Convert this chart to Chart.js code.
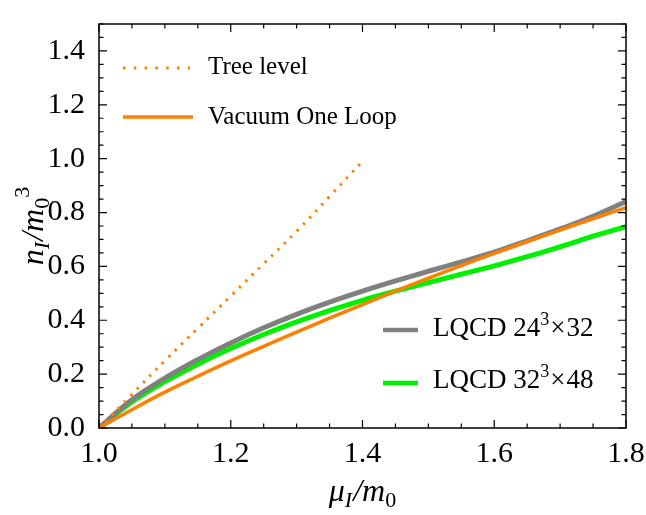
<!DOCTYPE html>
<html>
<head>
<meta charset="utf-8">
<script src="https://cdn.jsdelivr.net/npm/chart.js@4.4.1/dist/chart.umd.min.js"></script>
<style>
  html, body { margin: 0; padding: 0; background: #fff; }
  canvas { display: block; }
</style>
</head>
<body>
<canvas id="chart" width="646" height="515"></canvas>
<script>
// values
const mu = [1.00, 1.05, 1.10, 1.15, 1.20, 1.25, 1.30, 1.35, 1.40, 1.45, 1.50, 1.55, 1.60, 1.65, 1.70, 1.75, 1.80];
const oneLoop = [0, 0.068, 0.133, 0.192, 0.249, 0.303, 0.356, 0.408, 0.458, 0.508, 0.556, 0.603, 0.648, 0.692, 0.735, 0.777, 0.818];
const lqcd24 = [0, 0.105, 0.185, 0.254, 0.316, 0.372, 0.422, 0.467, 0.508, 0.546, 0.582, 0.617, 0.653, 0.695, 0.739, 0.786, 0.841];
const lqcd32 = [0, 0.097, 0.172, 0.237, 0.295, 0.347, 0.394, 0.436, 0.474, 0.508, 0.540, 0.571, 0.602, 0.636, 0.673, 0.712, 0.748];
const treeMu = [1.00, 1.05, 1.10, 1.15, 1.20, 1.25, 1.30, 1.35, 1.40];
const treeN = [0, 0.125, 0.25, 0.37, 0.49, 0.61, 0.73, 0.86, 0.99];

const xTicks = [1.0, 1.2, 1.4, 1.6, 1.8];
const yTicks = [0.0, 0.2, 0.4, 0.6, 0.8, 1.0, 1.2, 1.4];
const minorStep = 0.05;

const ORANGE = '#ff8000';
const GRAY = '#808080';
const GREEN = '#00f000';
const SERIF = '"Liberation Serif", "Times New Roman", Tinos, serif';

function pts(xs, ys) {
  return xs.map((x, i) => ({ x: x, y: ys[i] }));
}

// draws a run of text pieces (for sub/superscripts); align 'center' or 'left'
function drawRich(ctx, parts, x, y, align) {
  let w = 0;
  parts.forEach(p => {
    ctx.font = p.font;
    p.w = ctx.measureText(p.t).width;
    w += p.w + (p.gap || 0);
  });
  let cx = align === 'left' ? x : x - w / 2;
  ctx.textBaseline = 'alphabetic';
  ctx.textAlign = 'left';
  parts.forEach(p => {
    ctx.font = p.font;
    ctx.fillText(p.t, cx, y + (p.dy || 0));
    cx += p.w + (p.gap || 0);
  });
}

const overlay = {
  id: 'overlay',
  afterDraw(chart) {
    const ctx = chart.ctx;
    const a = chart.chartArea;
    const sx = chart.scales.x;
    const sy = chart.scales.y;
    ctx.save();
    ctx.strokeStyle = '#000';
    ctx.fillStyle = '#000';

    // inward ticks on all four sides
    ctx.lineWidth = 1.2;
    ctx.beginPath();
    for (let v = sx.min; v <= sx.max + 1e-9; v += minorStep) {
      const major = xTicks.some(t => Math.abs(t - v) < 1e-6);
      const len = major ? 8 : 4.5;
      const px = sx.getPixelForValue(v);
      ctx.moveTo(px, a.bottom); ctx.lineTo(px, a.bottom - len);
      ctx.moveTo(px, a.top); ctx.lineTo(px, a.top + len);
    }
    for (let v = sy.min; v <= sy.max + 1e-9; v += minorStep) {
      const major = yTicks.some(t => Math.abs(t - v) < 1e-6);
      const len = major ? 8 : 4.5;
      const py = sy.getPixelForValue(v);
      ctx.moveTo(a.left, py); ctx.lineTo(a.left + len, py);
      ctx.moveTo(a.right, py); ctx.lineTo(a.right - len, py);
    }
    ctx.stroke();

    // frame
    ctx.lineWidth = 1.5;
    ctx.strokeRect(a.left, a.top, a.right - a.left, a.bottom - a.top);

    // legend swatches
    ctx.lineCap = 'butt';
    ctx.lineWidth = 3;
    ctx.strokeStyle = ORANGE;
    ctx.setLineDash([2.5, 8.3]);
    ctx.beginPath(); ctx.moveTo(123, 68); ctx.lineTo(190, 68); ctx.stroke();
    ctx.setLineDash([]);
    ctx.lineWidth = 3.5;
    ctx.beginPath(); ctx.moveTo(123, 117); ctx.lineTo(193, 117); ctx.stroke();
    ctx.lineWidth = 4.5;
    ctx.strokeStyle = GRAY;
    ctx.beginPath(); ctx.moveTo(383, 330); ctx.lineTo(418, 330); ctx.stroke();
    ctx.strokeStyle = GREEN;
    ctx.beginPath(); ctx.moveTo(383, 383); ctx.lineTo(418, 383); ctx.stroke();

    // legend labels
    ctx.font = '25px ' + SERIF;
    ctx.textAlign = 'left';
    ctx.textBaseline = 'alphabetic';
    ctx.fillText('Tree level', 208, 74);
    ctx.fillText('Vacuum One Loop', 208, 124);

    const lf = '27px ' + SERIF;
    const ls = '18px ' + SERIF;
    drawRich(ctx, [
      { t: 'LQCD 24', font: lf },
      { t: '3', font: ls, dy: -11, gap: 1 },
      { t: '×', font: lf, gap: 1 },
      { t: '32', font: lf }
    ], 433, 336, 'left');
    drawRich(ctx, [
      { t: 'LQCD 32', font: lf },
      { t: '3', font: ls, dy: -11, gap: 1 },
      { t: '×', font: lf, gap: 1 },
      { t: '48', font: lf }
    ], 433, 388, 'left');

    // axis titles
    const it = 'italic 32px ' + SERIF;
    const itS = 'italic 22px ' + SERIF;
    const upS = '22px ' + SERIF;
    drawRich(ctx, [
      { t: 'μ', font: it },
      { t: 'I', font: itS, dy: 6, gap: 1 },
      { t: '/', font: it },
      { t: 'm', font: it },
      { t: '0', font: upS, dy: 6 }
    ], (a.left + a.right) / 2, 501);

    ctx.translate(43, (a.top + a.bottom) / 2);
    ctx.rotate(-Math.PI / 2);
    drawRich(ctx, [
      { t: 'n', font: it },
      { t: 'I', font: itS, dy: 6, gap: 1 },
      { t: '/', font: it },
      { t: 'm', font: it },
      { t: '0', font: upS, dy: 6 },
      { t: '3', font: upS, dy: -14 }
    ], 0, 0);
    ctx.restore();
  }
};

const tickFont = { family: SERIF, size: 30 };

function makeChart() {
  new Chart(document.getElementById('chart'), {
    type: 'line',
    data: {
      datasets: [
        {
          label: 'Vacuum One Loop',
          data: pts(mu, oneLoop),
          borderColor: ORANGE,
          borderWidth: 3.5,
          order: 0
        },
        {
          label: 'Tree level',
          data: pts(treeMu, treeN),
          borderColor: ORANGE,
          borderWidth: 3,
          borderDash: [2.5, 6.5],
          order: 1
        },
        {
          label: 'LQCD 24³×32',
          data: pts(mu, lqcd24),
          borderColor: GRAY,
          borderWidth: 5,
          order: 2
        },
        {
          label: 'LQCD 32³×48',
          data: pts(mu, lqcd32),
          borderColor: GREEN,
          borderWidth: 5,
          order: 3
        }
      ]
    },
    options: {
      responsive: false,
      animation: false,
      devicePixelRatio: 1,
      layout: { padding: { top: 7, right: 20, left: 0, bottom: 0 } },
      elements: {
        point: { radius: 0 },
        line: { tension: 0.4, fill: false }
      },
      plugins: {
        legend: { display: false },
        tooltip: { enabled: false }
      },
      scales: {
        x: {
          type: 'linear',
          min: 1.0,
          max: 1.8,
          grid: { display: false },
          border: { display: false },
          afterBuildTicks: s => { s.ticks = xTicks.map(v => ({ value: v })); },
          afterFit: s => { s.height = 87; },
          ticks: {
            font: tickFont,
            color: '#000',
            padding: 0,
            maxRotation: 0,
            autoSkip: false,
            callback: v => Number(v).toFixed(1)
          }
        },
        y: {
          type: 'linear',
          min: 0,
          max: 1.5,
          grid: { display: false },
          border: { display: false },
          afterBuildTicks: s => { s.ticks = yTicks.map(v => ({ value: v })); },
          afterFit: s => { s.width = 99; },
          ticks: {
            font: tickFont,
            color: '#000',
            padding: 6,
            autoSkip: false,
            callback: v => Number(v).toFixed(1)
          }
        }
      }
    },
    plugins: [overlay]
  });
}

// make sure the serif face is ready before drawing
Promise.all([
  document.fonts.load('30px "Liberation Serif"'),
  document.fonts.load('italic 32px "Liberation Serif"')
]).catch(() => {}).then(makeChart);
</script>
</body>
</html>
